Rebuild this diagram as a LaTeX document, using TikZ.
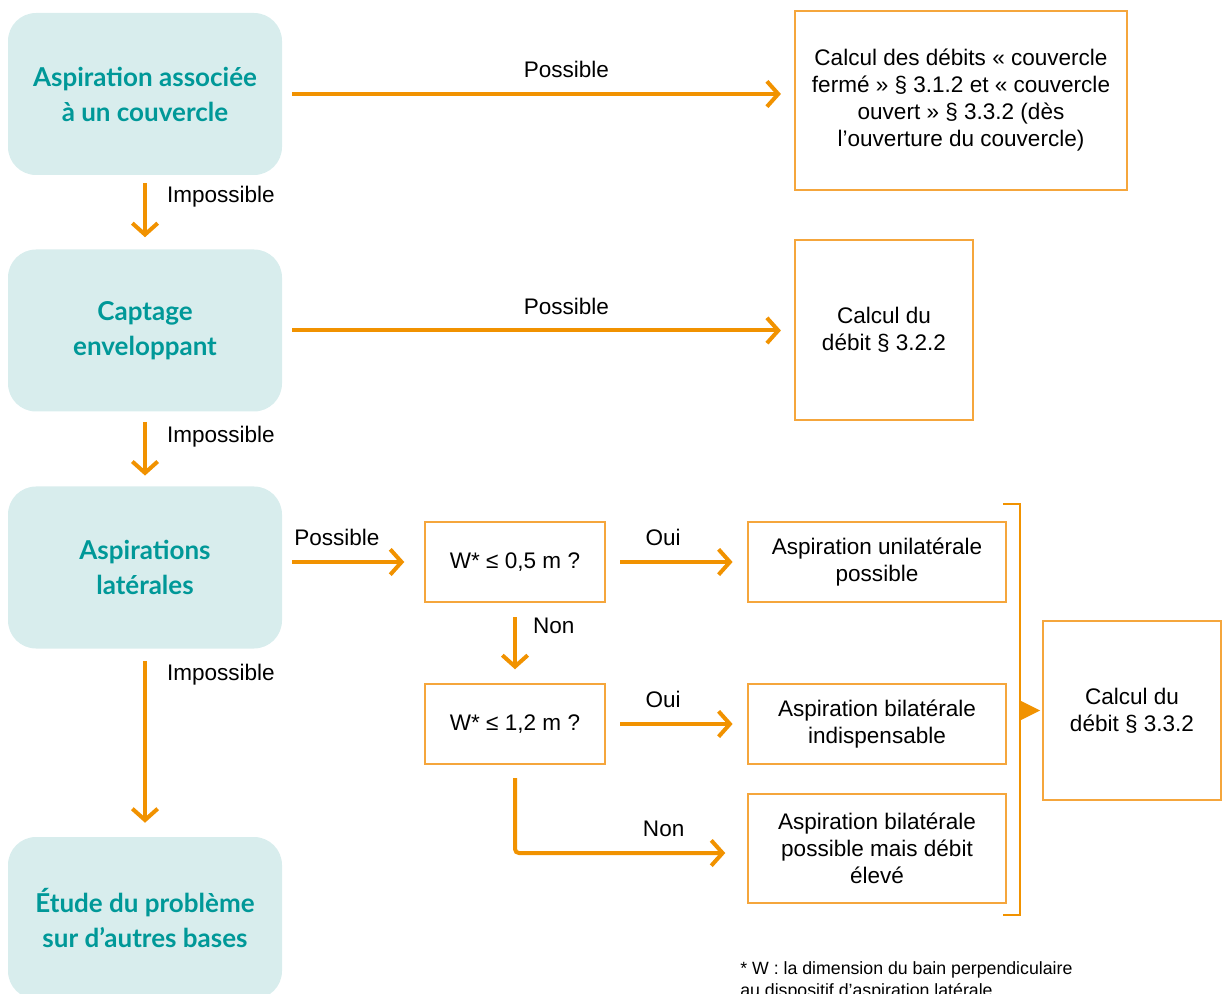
\documentclass[tikz,border=0pt]{standalone}
\usepackage{fontspec}
\setmainfont{Liberation Sans}
\newfontfamily\headfont{Lato}
\usepackage{tikz}
\usetikzlibrary{arrows.meta}

\begin{document}
\begin{tikzpicture}[x=0.75pt,y=0.75pt,yscale=-1,xscale=1,
    headbox/.style={fill={rgb, 255:red, 216; green, 237; blue, 237 }, draw=none, rounded corners=21pt,
        minimum width=205.5pt, minimum height=121.5pt, align=center,
        text={rgb, 255:red, 0; green, 152; blue, 152 }, font=\headfont\bfseries\fontsize{19.5}{26.25}\selectfont},
    resbox/.style={draw={rgb, 255:red, 245; green, 166; blue, 60 }, line width=1.1pt, align=center,
        inner sep=0pt, font=\fontsize{16.9}{20.25}\selectfont},
    flowarrow/.style={draw={rgb, 255:red, 241; green, 146; blue, 0 }, line width=3pt,
        -{Straight Barb[length=8.5pt,width=19pt]}, shorten <=7.5pt, shorten >=10pt},
    lbl/.style={text=black, inner sep=1pt, font=\fontsize{16.9}{20.25}\selectfont}]
        \useasboundingbox (0,0) rectangle (1224,994);

        %Shape: Rounded Rect
        \node[headbox] (asp) at (145,94) {Aspiration associée\\à un couvercle};
        \node[headbox] (capt) at (145,330.5) {Captage\\enveloppant};
        \node[headbox] (lat) at (145,567.5) {Aspirations\\latérales};
        \node[headbox] (etude) at (145,918) {Étude du problème\\sur d’autres bases};

        %Shape: Rectangle
        \node[resbox, minimum width=249pt, minimum height=134.25pt] (debit1) at (961,100.5)
            {Calcul des débits «~couvercle\\fermé~»~§~3.1.2 et «~couvercle\\ouvert~»~§~3.3.2 (dès\\l’ouverture du couvercle)};
        \node[resbox, minimum width=133.5pt, minimum height=135pt] (debit2) at (884,330) {Calcul du\\débit §~3.2.2};
        \node[resbox, minimum width=135pt, minimum height=60pt] (w1) at (515,562) {W* ≤ 0,5 m ?};
        \node[resbox, minimum width=135pt, minimum height=60pt] (w2) at (515,724) {W* ≤ 1,2 m ?};
        \node[resbox, minimum width=193.5pt, minimum height=60pt] (uni) at (877,562) {Aspiration unilatérale\\possible};
        \node[resbox, minimum width=193.5pt, minimum height=60pt] (bi) at (877,724) {Aspiration bilatérale\\indispensable};
        \node[resbox, minimum width=193.5pt, minimum height=81.75pt] (bi2) at (877,848.5) {Aspiration bilatérale\\possible mais débit\\élevé};
        \node[resbox, minimum width=133.5pt, minimum height=134.25pt] (debit3) at (1132,710.5) {Calcul du\\débit §~3.3.2};

        %Straight Lines
        \draw[flowarrow] (asp.east) -- (asp.east -| debit1.west) node[lbl, above=9.5pt, pos=0.555] {Possible};
        \draw[flowarrow] (capt.east) -- (capt.east -| debit2.west) node[lbl, above=9.5pt, pos=0.555] {Possible};
        \draw[flowarrow, shorten >=15pt] (lat.east |- w1) -- (w1.west) node[lbl, above=9.5pt, pos=0.385] {Possible};
        \draw[flowarrow, shorten <=11pt, shorten >=11pt] (w1.east) -- (uni.west) node[lbl, above=9.5pt, pos=0.405] {Oui};
        \draw[flowarrow, shorten <=11pt, shorten >=11pt] (w2.east) -- (bi.west) node[lbl, above=9.5pt, pos=0.405] {Oui};

        \draw[flowarrow, shorten <=6pt, shorten >=9pt] (asp.south) -- (capt.north) node[lbl, right=14pt, pos=0.29] {Impossible};
        \draw[flowarrow, shorten <=7.5pt, shorten >=8pt] (capt.south) -- (lat.north) node[lbl, right=14pt, pos=0.33] {Impossible};
        \draw[flowarrow, shorten <=9pt, shorten >=10.5pt] (lat.south) -- (etude.north) node[lbl, right=14pt, pos=0.14] {Impossible};
        \draw[flowarrow, shorten <=11pt, shorten >=10.5pt] (w1.south) -- (w2.north) node[lbl, right=11pt, pos=0.29] {Non};
        \draw[flowarrow, rounded corners=3pt, shorten <=10pt, shorten >=16.5pt] (w2.south) |- ([yshift=3.4pt]bi2.west)
            node[lbl, above=9.5pt, pos=0.82] {Non};

        %Shape: Bracket
        \draw[draw={rgb, 255:red, 241; green, 146; blue, 0 }, line width=2.2pt] (1003,504) -- (1020,504) -- (1020,915) -- (1003,915);
        \fill[fill={rgb, 255:red, 241; green, 146; blue, 0 }] (1021,701) -- (1040,710.5) -- (1021,720) -- cycle;

        % Text Node
        \node[anchor=north west, inner sep=0pt, align=left, font=\fontsize{13.3}{16.5}\selectfont] (note) at (740,961)
            {* W : la dimension du bain perpendiculaire\\au dispositif d’aspiration latérale};

\end{tikzpicture}
\end{document}
